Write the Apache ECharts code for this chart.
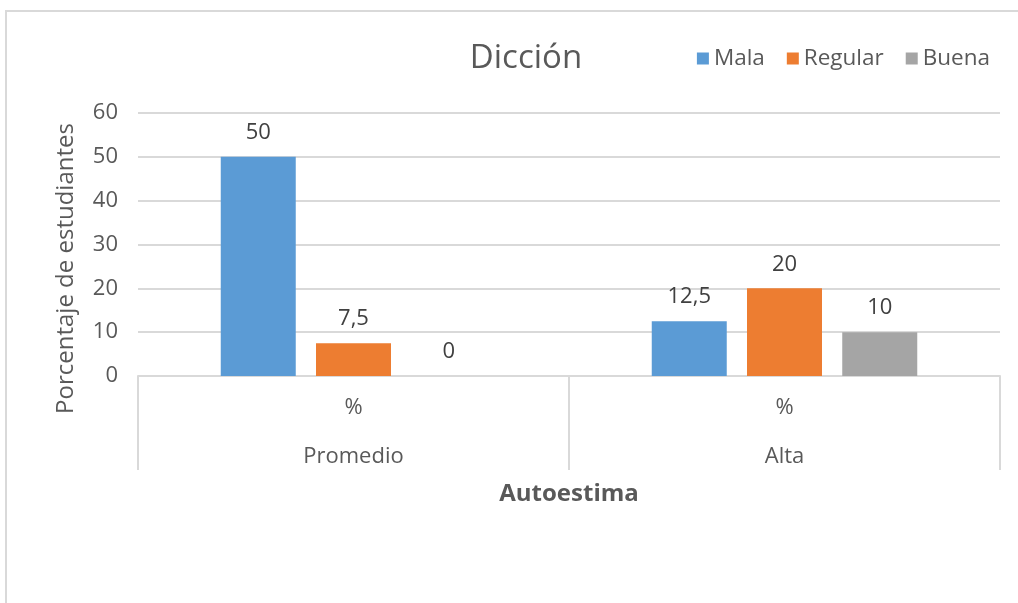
<!DOCTYPE html>
<html>
<head>
<meta charset="utf-8">
<script src="https://cdn.jsdelivr.net/npm/echarts@6/dist/echarts.min.js"></script>
<style>
  html, body { margin: 0; padding: 0; background: #fff; }
  .frame {
    position: absolute; left: 5px; top: 10px; width: 1020px; height: 600px;
    border-top: 2px solid #d9d9d9; border-left: 2px solid #d9d9d9;
  }
  .chart { position: absolute; left: 0; top: 0; width: 1018px; height: 603px; }
</style>
</head>
<body>
<div class="frame"></div>
<div class="chart" id="myEcharts"></div>
<script>
// datos
const grupos = ['Promedio', 'Alta']
const subEtiquetas = ['%', '%']
const mala = [50, 12.5]
const regular = [7.5, 20]
const buena = [0, 10]
const ticksY = [0, 10, 20, 30, 40, 50, 60]

const fuente = 'Open Sans'
const gris = '#595959'

function barra (nombre, datos, color) {
  return {
    name: nombre,
    type: 'bar',
    data: datos,
    barWidth: 75,
    barGap: '27%',
    itemStyle: { color: color },
    label: {
      show: true,
      position: 'top',
      distance: 13,
      fontFamily: fuente,
      fontSize: 22,
      color: '#404040',
      formatter: (p) => String(p.value).replace('.', ',')
    }
  }
}

const myChart = echarts.init(document.getElementById('myEcharts'))
myChart.setOption({
  animation: false,
  title: {
    text: 'Dicción',
    left: 521,
    top: 37,
    textAlign: 'center',
    textStyle: { fontFamily: fuente, fontSize: 33, fontWeight: 'normal', color: gris }
  },
  legend: {
    right: 23,
    top: 42,
    icon: 'rect',
    itemWidth: 12,
    itemHeight: 12,
    itemGap: 22,
    itemTextGap: 9,
    textStyle: { fontFamily: fuente, fontSize: 22.5, color: gris },
    data: ['Mala', 'Regular', 'Buena']
  },
  grid: { left: 138, right: 18, top: 113, bottom: 227 },
  xAxis: [
    {
      type: 'category',
      data: subEtiquetas,
      name: 'Autoestima',
      nameLocation: 'middle',
      nameGap: 106,
      nameTextStyle: { fontFamily: fuente, fontSize: 24, fontWeight: 'bold', color: gris },
      axisLine: { lineStyle: { color: '#d9d9d9', width: 2 } },
      axisTick: { show: true, interval: 0, length: 94, lineStyle: { color: '#d9d9d9', width: 2 } },
      axisLabel: { interval: 0, margin: 21, fontFamily: fuente, fontSize: 22, color: gris }
    },
    {
      type: 'category',
      position: 'bottom',
      data: grupos,
      axisLine: { show: false },
      axisTick: { show: false },
      axisLabel: { interval: 0, margin: 70, fontFamily: fuente, fontSize: 22, color: gris }
    }
  ],
  yAxis: {
    type: 'value',
    min: ticksY[0],
    max: ticksY[ticksY.length - 1],
    interval: 10,
    name: 'Porcentaje de estudiantes',
    nameLocation: 'middle',
    nameGap: 60,
    nameTextStyle: { fontFamily: fuente, fontSize: 24, color: gris, padding: [0, 48, 0, 0] },
    axisLine: { show: false },
    axisTick: { show: false },
    axisLabel: { margin: 20, fontFamily: fuente, fontSize: 22, color: gris },
    splitLine: { lineStyle: { color: '#d9d9d9', width: 2 } }
  },
  series: [
    barra('Mala', mala, '#5B9BD5'),
    barra('Regular', regular, '#ED7D31'),
    barra('Buena', buena, '#A5A5A5')
  ]
})
window.addEventListener('resize', () => { myChart.resize() })
</script>
</body>
</html>
